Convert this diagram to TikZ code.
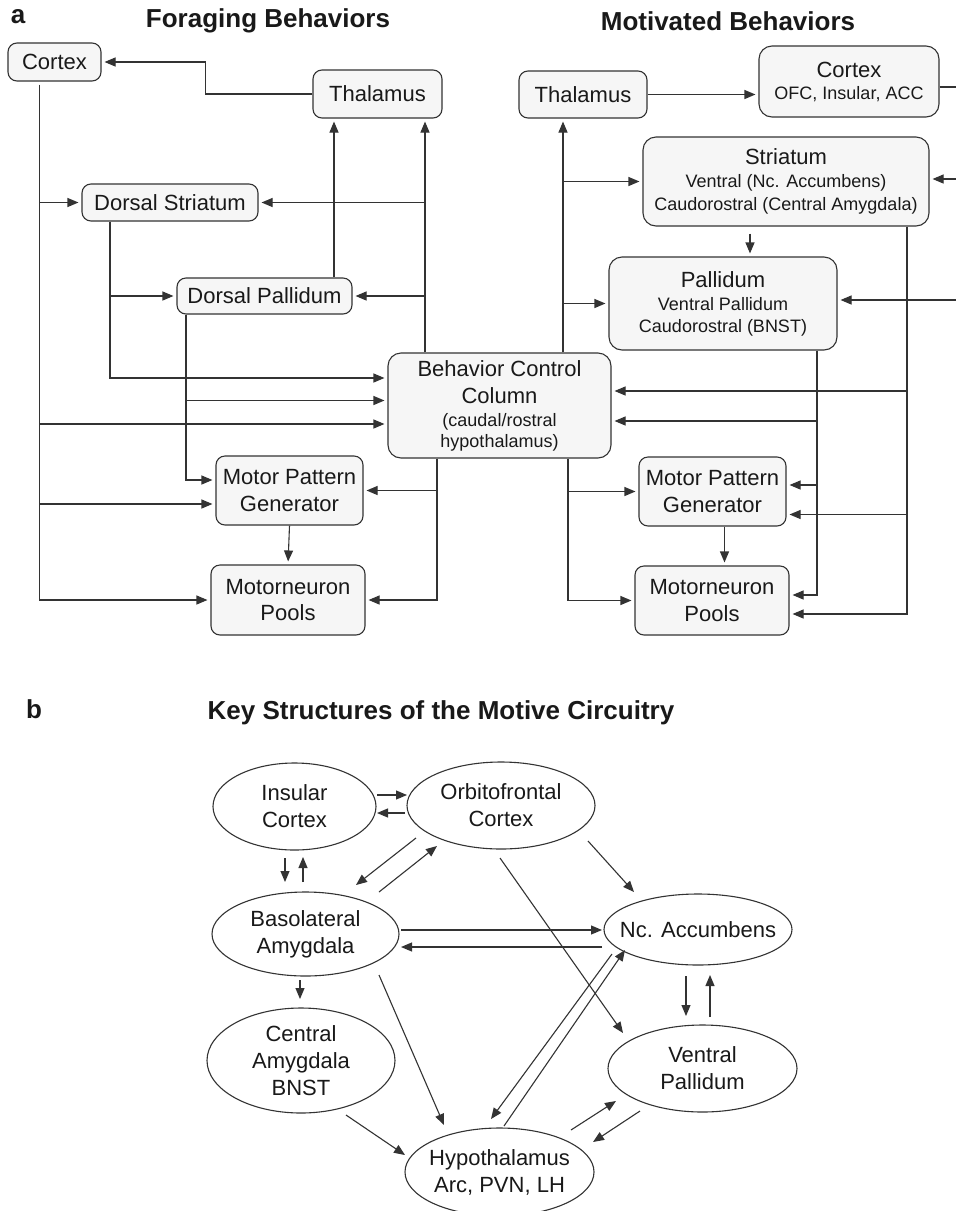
\documentclass[tikz,border=0pt]{standalone}
\usepackage{fontspec}
\setmainfont{Liberation Sans}
\usetikzlibrary{arrows.meta,calc,shapes.geometric}
\definecolor{ink}{HTML}{333333}
\definecolor{boxfill}{HTML}{F6F6F6}
\newcommand{\subf}{\fontsize{18}{22.5}\selectfont}
\begin{document}
\begin{tikzpicture}[x=1pt,y=-1pt,
  box/.style={draw=ink, line width=1.1pt, rounded corners=9pt, fill=boxfill, align=center,
    inner sep=0pt, font=\fontsize{22}{26.5}\selectfont, text=black!90},
  bigbox/.style={box, rounded corners=13pt},
  ell/.style={ellipse, draw=ink, line width=1.1pt, fill=white, align=center,
    inner xsep=-15pt, inner ysep=-5pt, font=\fontsize{22}{27}\selectfont, text=black!90},
  arr/.style={draw=ink, line width=1.1pt, -{Triangle[length=11pt,width=9pt]}, shorten >=3pt},
  arrb/.style={draw=ink, line width=1.1pt, -{Triangle[length=11pt,width=9pt]}},
  ln/.style={draw=ink, line width=1.1pt},
  ttl/.style={font=\bfseries\fontsize{26}{30}\selectfont, text=black!90, inner sep=0pt},
]
\fill[white] (0,0) rectangle (956,1211);
\useasboundingbox (0,0) rectangle (956,1211);

% ---------- titles ----------
\node[ttl] (la) at (18,17) {a};
\node[ttl] (t1) at (268,21) {Foraging Behaviors};
\node[ttl] (t2) at (728,21) {Motivated Behaviors};
\node[ttl] (lb) at (34,709) {b};
\node[ttl] (t3) at (441,713) {Key Structures of the Motive Circuitry};

% ---------- part a, left ----------
\node[box, minimum width=93pt, minimum height=38pt] (cortexL) at (54.5,62) {Cortex};
\node[box, minimum width=129pt, minimum height=48pt] (thalL) at (377.5,94) {Thalamus};
\node[box, minimum width=176pt, minimum height=37pt] (dstr) at (170,202.5) {Dorsal Striatum};
\node[box, minimum width=175pt, minimum height=36pt] (dpal) at (264.5,296) {Dorsal Pallidum};
\node[bigbox, minimum width=223pt, minimum height=105pt] (bcc) at (499.5,405.5)
  {Behavior Control\\[0.5pt]Column\\[-3.5pt]{\subf (caudal/rostral}\\[-5.5pt]{\subf hypothalamus)}};
\node[box, minimum width=147pt, minimum height=69pt] (mpgL) at (289.5,490.5) {Motor Pattern\\Generator};
\node[box, minimum width=154pt, minimum height=70pt] (mnpL) at (288,600) {Motorneuron\\Pools};

% ---------- part a, right ----------
\node[box, minimum width=128pt, minimum height=47pt] (thalR) at (583,94.5) {Thalamus};
\node[bigbox, minimum width=180pt, minimum height=71pt] (cortexR) at (849,81.5)
  {Cortex\\[-4.5pt]{\subf OFC, Insular, ACC}};
\node[bigbox, minimum width=286pt, minimum height=89pt] (str) at (786,181.5)
  {Striatum\\[-3.5pt]{\subf Ventral (Nc. Accumbens)}\\[-3.5pt]{\subf Caudorostral (Central Amygdala)}};
\node[bigbox, minimum width=228pt, minimum height=93pt] (pal) at (723,303.5)
  {Pallidum\\[-3.5pt]{\subf Ventral Pallidum}\\[-4.5pt]{\subf Caudorostral (BNST)}};
\node[box, minimum width=147pt, minimum height=69pt] (mpgR) at (712.5,491.5) {Motor Pattern\\Generator};
\node[box, minimum width=154pt, minimum height=69pt] (mnpR) at (712,600.5) {Motorneuron\\Pools};

% ---------- connectors, left ----------
\draw[arr] (thalL.west) -- ++(-107,0) |- (cortexL.east);
\coordinate (cT) at ($(cortexL.south west)+(32,3)$);
\coordinate (bw1) at ($(bcc.west)+(0,-27.5)$);
\coordinate (bw2) at ($(bcc.west)+(0,-5)$);
\coordinate (bw3) at ($(bcc.west)+(0,18.5)$);
\coordinate (mw1) at ($(mpgL.west)+(0,-10.5)$);
\coordinate (mw2) at ($(mpgL.west)+(0,13.5)$);
\draw[arr] (cT) |- (mnpL.west);
\draw[arr] (cT |- dstr.west) -- (dstr.west);
\draw[arr] (cT |- bw3) -- (bw3);
\draw[arr] (cT |- mw2) -- (mw2);
\coordinate (dsT) at ($(dstr.south)+(-60,0)$);
\draw[arr] (dsT) |- (bw1);
\draw[arr] (dsT |- dpal.west) -- (dpal.west);
\coordinate (dpT) at ($(dpal.south)+(-78.5,0)$);
\draw[arr] (dpT) |- (mw1);
\draw[arr] (dpT |- bw2) -- (bw2);
\coordinate (dpN) at ($(dpal.north)+(69.5,0)$);
\draw[arr] (dpN) -- (dpN |- thalL.south);
\coordinate (bN1) at ($(bcc.north)+(-74.5,0)$);
\draw[arr] (bN1) -- (bN1 |- thalL.south);
\draw[arr] (bN1 |- dstr.east) -- (dstr.east);
\draw[arr] (bN1 |- dpal.east) -- (dpal.east);
\coordinate (bS1) at ($(bcc.south)+(-62.5,0)$);
\draw[arr] (bS1) |- (mnpL.east);
\draw[arr] (bS1 |- mpgL.east) -- (mpgL.east);
\draw[arr] (mpgL.south) -- (mnpL.north);

% ---------- connectors, right ----------
\draw[arr] (thalR.east) -- (thalR.east -| cortexR.west);
\coordinate (eC) at (956,87);
\draw[ln] (eC -| cortexR.east) -- (eC);
\coordinate (eS) at (956,179);
\draw[arr] (eS) -- (eS -| str.east);
\coordinate (eP) at (956,300);
\draw[arr] (eP) -- (eP -| pal.east);
\coordinate (bN2) at ($(bcc.north)+(63.5,0)$);
\draw[arr] (bN2) -- (bN2 |- thalR.south);
\draw[arr] (bN2 |- str.west) -- (str.west);
\draw[arr] (bN2 |- pal.west) -- (pal.west);
\coordinate (sp) at ($(str.south)+(-36,0)$);
\draw[arr, shorten <=7pt] (sp) -- (sp |- pal.north);
\coordinate (be1) at ($(bcc.east)+(0,-14.5)$);
\coordinate (be2) at ($(bcc.east)+(0,15.5)$);
\coordinate (me1) at ($(mpgR.east)+(0,-6.5)$);
\coordinate (me2) at ($(mpgR.east)+(0,23)$);
\coordinate (ne1) at ($(mnpR.east)+(0,-5.5)$);
\coordinate (ne2) at ($(mnpR.east)+(0,13.5)$);
\coordinate (stT) at ($(str.south)+(121,0)$);
\draw[arr] (stT) |- (ne2);
\draw[arr] (stT |- be1) -- (be1);
\draw[arr] (stT |- me2) -- (me2);
\coordinate (paT) at ($(pal.south)+(94,0)$);
\draw[arr] (paT) |- (ne1);
\draw[arr] (paT |- be2) -- (be2);
\draw[arr] (paT |- me1) -- (me1);
\coordinate (bS2) at ($(bcc.south)+(68.5,0)$);
\draw[arr] (bS2) |- (mnpR.west);
\draw[arr] (bS2 |- mpgR.west) -- (mpgR.west);
\coordinate (mR) at ($(mpgR.south)+(12,0)$);
\draw[arr] (mR) -- (mR |- mnpR.north);

% ---------- part b ----------
\node[ell, minimum width=163pt, minimum height=87pt] (ins) at (294.5,806.5) {Insular\\Cortex};
\node[ell, minimum width=188pt, minimum height=87pt] (ofc) at (501,805.5) {Orbitofrontal\\Cortex};
\node[ell, minimum width=187pt, minimum height=84pt] (bla) at (305.5,934) {Basolateral\\Amygdala};
\node[ell, minimum width=188pt, minimum height=71pt] (nac) at (698,929.5) {Nc. Accumbens};
\node[ell, minimum width=188pt, minimum height=105pt] (cen) at (301,1060.5) {Central\\Amygdala\\BNST};
\node[ell, minimum width=189pt, minimum height=87pt] (vp) at (702.5,1068.5) {Ventral\\Pallidum};
\node[ell, minimum width=189pt, minimum height=88pt] (hyp) at (499.5,1172) {Hypothalamus\\Arc, PVN, LH};

\draw[arrb] ($(ins)+(82.5,-11.5)$) -- ($(ofc)+(-94,-10.5)$);
\draw[arrb] ($(ofc)+(-96,7.5)$) -- ($(ins)+(82.5,6.5)$);
\draw[arrb] ($(ins)+(-9.5,51.5)$) -- ($(bla)+(-20.5,-52)$);
\draw[arrb] ($(bla)+(-2.5,-52)$) -- ($(ins)+(8.5,50.5)$);
\draw[arrb] ($(ofc)+(-85,32.5)$) -- ($(bla)+(50.5,-49)$);
\draw[arrb] ($(bla)+(73.5,-42)$) -- ($(ofc)+(-64,40.5)$);
\draw[arrb] ($(ofc)+(87,35.5)$) -- ($(nac)+(-64,-37.5)$);
\draw[arrb] ($(ofc)+(-1,52.5)$) -- ($(vp)+(-79.5,-35.5)$);
\draw[arrb] ($(bla)+(95.5,-4)$) -- ($(nac)+(-96,0.5)$);
\draw[arrb] ($(nac)+(-96,17.5)$) -- ($(bla)+(95.5,13)$);
\draw[arrb] ($(bla)+(73.5,41)$) -- ($(hyp)+(-55.5,-47)$);
\draw[arrb] ($(bla)+(-5.5,46)$) -- ($(cen)+(-1,-61.5)$);
\draw[arrb] ($(nac)+(-86,24.5)$) -- ($(hyp)+(-8.5,-53)$);
\draw[arrb] ($(hyp)+(4.5,-46)$) -- ($(nac)+(-73,20.5)$);
\draw[arrb] ($(nac)+(-12,46.5)$) -- ($(vp)+(-16.5,-52.5)$);
\draw[arrb] ($(vp)+(7.5,-51.5)$) -- ($(nac)+(12,45.5)$);
\draw[arrb] ($(cen)+(45,54.5)$) -- ($(hyp)+(-94.5,-17)$);
\draw[arrb] ($(hyp)+(71.5,-42)$) -- ($(vp)+(-86.5,32.5)$);
\draw[arrb] ($(vp)+(-62.5,42.5)$) -- ($(hyp)+(93.5,-30)$);
\end{tikzpicture}
\end{document}
